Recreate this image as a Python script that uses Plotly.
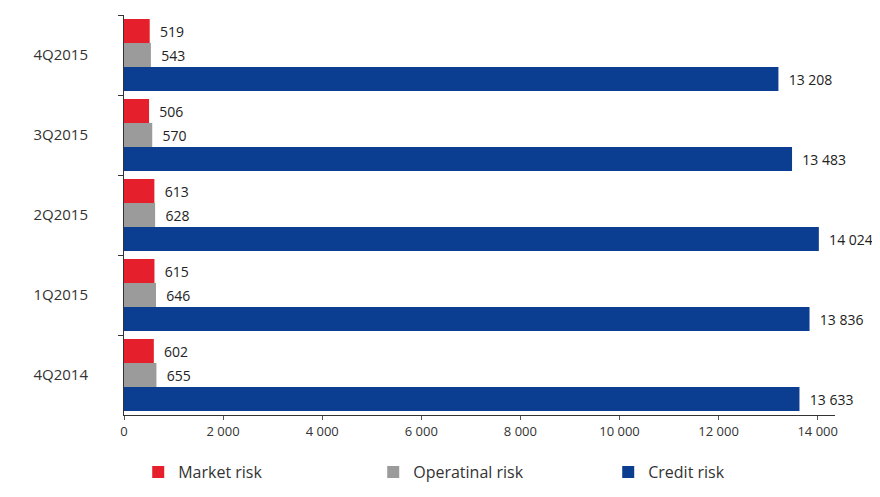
import plotly.graph_objects as go

categories = ["4Q2015", "3Q2015", "2Q2015", "1Q2015", "4Q2014"]
market_risk = [519, 506, 613, 615, 602]
operational_risk = [543, 570, 628, 646, 655]
credit_risk = [13208, 13483, 14024, 13836, 13633]

series = [
    ("Market risk", market_risk, "#e51f2b"),
    ("Operatinal risk", operational_risk, "#9b9b9b"),
    ("Credit risk", credit_risk, "#0b3d91"),
]

fig = go.Figure()
for name, vals, col in series:
    fig.add_trace(go.Bar(
        y=categories, x=vals, name=name, orientation="h",
        marker=dict(color=col, line=dict(width=0)),
        text=vals, texttemplate="  %{x:,}", textposition="outside",
        textfont=dict(size=14, color="#222222", family="Open Sans"),
        cliponaxis=False,
    ))

# page body has an 8px default margin, so the figure is sized/offset to compensate
fig.update_layout(
    width=872, height=489,
    barmode="group", bargap=0.1, bargroupgap=0,
    separators=", ",
    plot_bgcolor="white", paper_bgcolor="white",
    margin=dict(l=116, r=45, t=7, b=82, autoexpand=False),
    font=dict(family="Open Sans", color="#333333"),
    showlegend=True,
    legend=dict(orientation="h", x=0.02, xanchor="left", y=-0.10, yanchor="top",
                entrywidth=190, font=dict(size=16, color="#333333"),
                itemwidth=30),
    xaxis=dict(range=[0, 14350], dtick=2000, tickformat=",d", automargin=False,
               showgrid=False, zeroline=False, showline=True,
               linecolor="#333333", linewidth=1,
               ticks="outside", ticklen=4, tickcolor="#555555",
               tickfont=dict(size=13, color="#333333")),
    yaxis=dict(autorange="reversed", showgrid=False, showline=True, automargin=False,
               linecolor="#333333", linewidth=1,
               ticks="outside", ticklen=5, tickson="boundaries", tickcolor="#333333",
               ticklabelstandoff=32,
               tickfont=dict(size=15, color="#333333")),
)

fig.write_html("out.html")
